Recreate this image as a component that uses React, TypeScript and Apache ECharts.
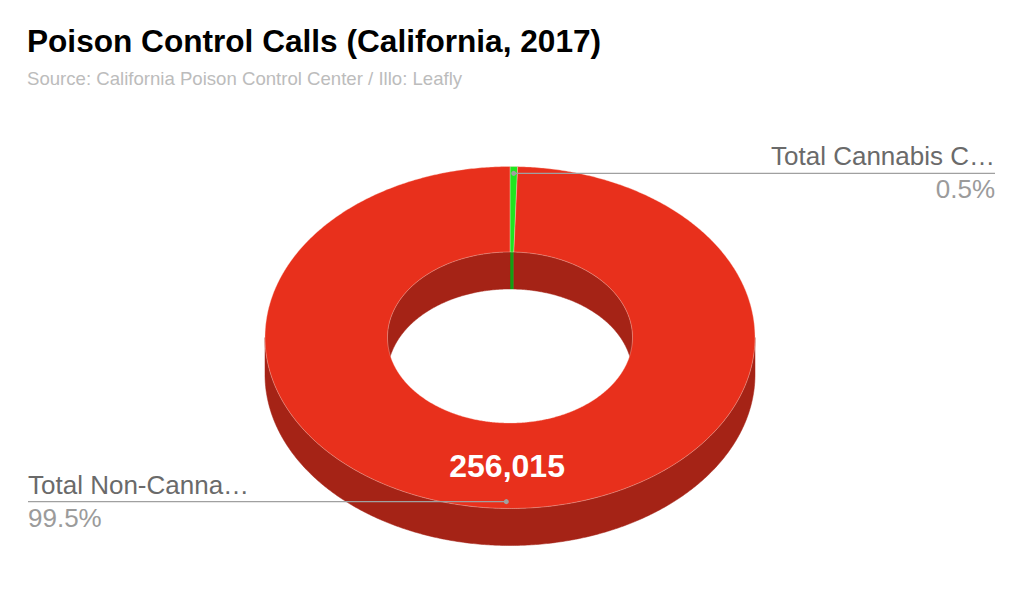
import React, { useEffect, useRef } from "react";
import * as echarts from "echarts";

// ---- data ----
const categories = ["Total Cannabis Calls", "Total Non-Cannabis Calls"];
const labelNames = ["Total Cannabis C…", "Total Non-Canna…"];
const values = [1286, 256015];
const topColors = ["#1fe61f", "#e8301c"];
const sideColors = ["#14a014", "#a52316"];

const TITLE = "Poison Control Calls (California, 2017)";
const SUBTITLE = "Source: California Poison Control Center / Illo: Leafly";

// ---- layout ----
const CX = 510;
const CY = 337.5;
const RX = 245;
const RY = 171;
const INNER = 0.5;
const DEPTH = 37;
const LABEL_R = 0.96;
const VALUE_R = 0.75;
const LEFT_X = 28;
const RIGHT_X = 995;
const FONT = "'Liberation Sans', Arial, Helvetica, sans-serif";

const total = values.reduce((a, b) => a + b, 0);
const starts: number[] = [];
{
  let acc = 0;
  values.forEach((v) => {
    starts.push((acc / total) * Math.PI * 2);
    acc += v;
  });
}

function pt(theta: number, r: number, dy: number): number[] {
  return [CX + RX * r * Math.sin(theta), CY - RY * r * Math.cos(theta) + dy];
}
function arc(a0: number, a1: number, r: number, dy: number): number[][] {
  const n = Math.max(2, Math.ceil(Math.abs(a1 - a0) / (Math.PI / 360)));
  const out: number[][] = [];
  for (let i = 0; i <= n; i++) out.push(pt(a0 + ((a1 - a0) * i) / n, r, dy));
  return out;
}
function band(a0: number, a1: number, r: number): number[][] {
  return arc(a0, a1, r, 0).concat(arc(a0, a1, r, DEPTH).reverse());
}
function intersect(a0: number, a1: number, b0: number, b1: number): number[] | null {
  const s = Math.max(a0, b0);
  const e = Math.min(a1, b1);
  return e > s ? [s, e] : null;
}

function fmt(v: number): string {
  return v.toString().replace(/\B(?=(\d{3})+(?!\d))/g, ",");
}

export default function App() {
  const ref = useRef<HTMLDivElement>(null);
  useEffect(() => {
    if (!ref.current) return;
    const chart = echarts.init(ref.current, undefined, { renderer: "svg" });
    const renderItem = (params: any, api: any) => {
      const i = params.dataIndex;
      const v = api.value(0);
      const a0 = starts[i];
      const a1 = a0 + (v / total) * Math.PI * 2;
      const children: any[] = [];
      // outer wall (front half)
      const of = intersect(a0, a1, Math.PI / 2, (Math.PI * 3) / 2);
      if (of) {
        children.push({
          type: "polygon",
          z2: 1,
          shape: { points: band(of[0], of[1], 1) },
          style: { fill: sideColors[i], stroke: sideColors[i], lineWidth: 0.5 },
        });
      }
      // inner wall (back half)
      const backs = [
        intersect(a0, a1, 0, Math.PI / 2),
        intersect(a0, a1, (Math.PI * 3) / 2, Math.PI * 2),
      ];
      backs.forEach((b) => {
        if (b) {
          children.push({
            type: "polygon",
            z2: 1,
            shape: { points: band(b[0], b[1], INNER) },
            style: { fill: sideColors[i], stroke: sideColors[i], lineWidth: 0.5 },
          });
        }
      });
      // top face
      children.push({
        type: "polygon",
        z2: 5,
        shape: { points: arc(a0, a1, 1, 0).concat(arc(a0, a1, INNER, 0).reverse()) },
        style: { fill: topColors[i], stroke: "rgba(255,220,210,0.45)", lineWidth: 0.8 },
      });
      // value text inside slice
      const m = (a0 + a1) / 2;
      if (v / total > 0.05) {
        const p = pt(m, VALUE_R, 0);
        children.push({
          type: "text",
          z2: 10,
          style: {
            text: fmt(v),
            x: p[0],
            y: p[1],
            align: "center",
            verticalAlign: "middle",
            fill: "#ffffff",
            fontSize: 32,
            fontWeight: "bold",
            fontFamily: FONT,
          },
        });
      }
      // leader + label
      const an = pt(m, LABEL_R, 0);
      const right = Math.sin(m) >= 0;
      const ex = right ? RIGHT_X : LEFT_X;
      children.push({
        type: "line",
        z2: 12,
        shape: { x1: an[0], y1: an[1], x2: ex, y2: an[1] },
        style: { stroke: "#a0a0a0", lineWidth: 1.2 },
      });
      children.push({
        type: "circle",
        z2: 13,
        shape: { cx: an[0], cy: an[1], r: 2.5 },
        style: { fill: "#a0a0a0" },
      });
      children.push({
        type: "text",
        z2: 12,
        style: {
          text: labelNames[i],
          x: ex,
          y: an[1] - 4,
          align: right ? "right" : "left",
          verticalAlign: "bottom",
          fill: "#6a6a6a",
          fontSize: 26,
          fontFamily: FONT,
        },
      });
      children.push({
        type: "text",
        z2: 12,
        style: {
          text: ((v / total) * 100).toFixed(1) + "%",
          x: ex,
          y: an[1] + 3,
          align: right ? "right" : "left",
          verticalAlign: "top",
          fill: "#9b9b9b",
          fontSize: 26,
          fontFamily: FONT,
        },
      });
      return { type: "group", children };
    };
    chart.setOption({
      animation: false,
      backgroundColor: "#ffffff",
      title: {
        text: TITLE,
        subtext: SUBTITLE,
        left: 22,
        top: 20,
        itemGap: 12,
        textStyle: { fontSize: 31.6, fontWeight: "bold", color: "#000000", fontFamily: FONT },
        subtextStyle: { fontSize: 18.6, color: "#bcbcbc", fontFamily: FONT },
      },
      series: [
        {
          type: "custom",
          coordinateSystem: "none",
          renderItem,
          data: values.map((v, i) => ({ name: categories[i], value: v })),
        },
      ],
    });
    return () => chart.dispose();
  }, []);
  return (
    <div
      ref={ref}
      style={{ position: "fixed", left: 0, top: 0, width: 1020, height: 613 }}
    />
  );
}
